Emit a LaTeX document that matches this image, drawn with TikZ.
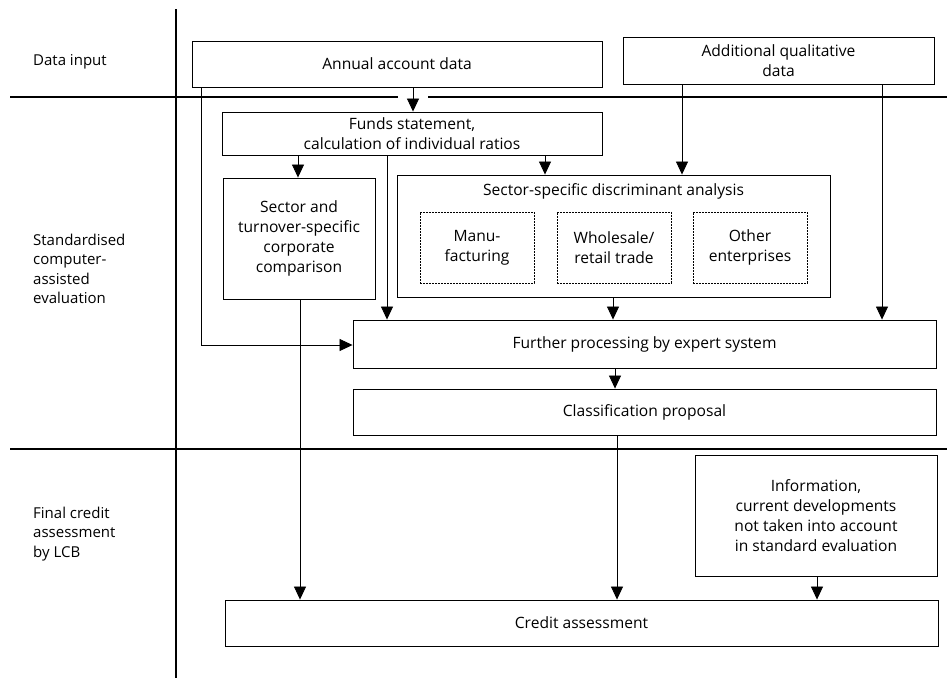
\documentclass[tikz,border=0pt]{standalone}
\usepackage{fontspec}
\setmainfont{Open Sans}
\usetikzlibrary{arrows.meta}
\begin{document}
\begin{tikzpicture}[x=1pt,y=-1pt,
  box/.style={draw, line width=0.9pt, inner sep=0pt, align=center, font=\fontsize{15.6}{20}\selectfont},
  subbox/.style={draw, dash pattern=on 2pt off 1pt, line width=0.6pt, inner sep=0pt, align=center, font=\fontsize{15.6}{20}\selectfont},
  lbl/.style={inner sep=0pt, align=left, anchor=west, font=\fontsize{15}{19.5}\selectfont},
  arr/.style={line width=0.8pt, -{Triangle[width=12pt,length=13pt]}},
  conn/.style={line width=0.8pt},
  rule/.style={line width=1.3pt}]
\useasboundingbox (0,0) rectangle (947,678);
% rules
\draw[rule] (176,9) -- (176,678);
\draw[rule] (10,97) -- (398,97);
\draw[rule] (428,97) -- (947,97);
\draw[rule] (10,449) -- (947,449);
% left labels
\node[lbl] (l1) at (33,62) {Data input};
\node[lbl] (l2) at (33,269) {Standardised\\computer-\\assisted\\evaluation};
\node[lbl] (l3) at (33,534) {Final credit\\assessment\\by LCB};
% boxes
\node[box, minimum width=410, minimum height=46] (annual) at (397,64) {Annual account data};
\node[box, minimum width=311, minimum height=47] (addq) at (778.5,60.5) {Additional qualitative\\data};
\node[box, minimum width=380, minimum height=43] (funds) at (412,133.5) {Funds statement,\\calculation of individual ratios};
\node[box, minimum width=152, minimum height=121] (sector) at (299,238.5) {Sector and\\turnover-specific\\corporate\\comparison};
\node[box, minimum width=433, minimum height=122] (disc) at (613.5,236) {};
\node[inner sep=0pt, font=\fontsize{15.6}{20}\selectfont] (disctitle) at (613.5,191) {Sector-specific discriminant analysis};
\node[subbox, minimum width=114, minimum height=71] (manu) at (477,247.5) {Manu-\\facturing};
\node[subbox, minimum width=114, minimum height=71] (whole) at (614,247.5) {Wholesale/\\retail trade};
\node[subbox, minimum width=114, minimum height=71] (other) at (750,247.5) {Other\\enterprises};
\node[box, minimum width=583, minimum height=48] (further) at (644.5,344) {Further processing by expert system};
\node[box, minimum width=583, minimum height=46] (classif) at (644.5,412) {Classification proposal};
\node[box, minimum width=242, minimum height=121] (info) at (816,515.5) {Information,\\current developments\\not taken into account\\in standard evaluation};
\node[box, minimum width=713, minimum height=46] (credit) at (581.5,623) {Credit assessment};
% connector x positions
\coordinate (xa) at (413,0);
\coordinate (xb) at (201,345);
\coordinate (xc) at (298,0);
\coordinate (xd) at (387,0);
\coordinate (xe) at (545,0);
\coordinate (xf) at (682,0);
\coordinate (xg) at (882,0);
\coordinate (xh) at (613,0);
\coordinate (xi) at (615,0);
\coordinate (xj) at (300,0);
\coordinate (xk) at (617,0);
\coordinate (xl) at (817,0);
% connectors
\draw[arr] (annual.south -| xa) -- (funds.north -| xa);
\draw[conn] (annual.south -| xb) -- (xb);
\draw[arr] (xb) -- (further.west |- xb);
\draw[arr] (funds.south -| xc) -- (sector.north -| xc);
\draw[arr] (funds.south -| xd) -- (further.north -| xd);
\draw[arr] (funds.south -| xe) -- (disc.north -| xe);
\draw[arr] (addq.south -| xf) -- (disc.north -| xf);
\draw[arr] (addq.south -| xg) -- (further.north -| xg);
\draw[arr] (disc.south -| xh) -- (further.north -| xh);
\draw[arr] (further.south -| xi) -- (classif.north -| xi);
\draw[arr] (sector.south -| xj) -- (credit.north -| xj);
\draw[arr] (classif.south -| xk) -- (credit.north -| xk);
\draw[arr] (info.south -| xl) -- (credit.north -| xl);
\end{tikzpicture}
\end{document}
